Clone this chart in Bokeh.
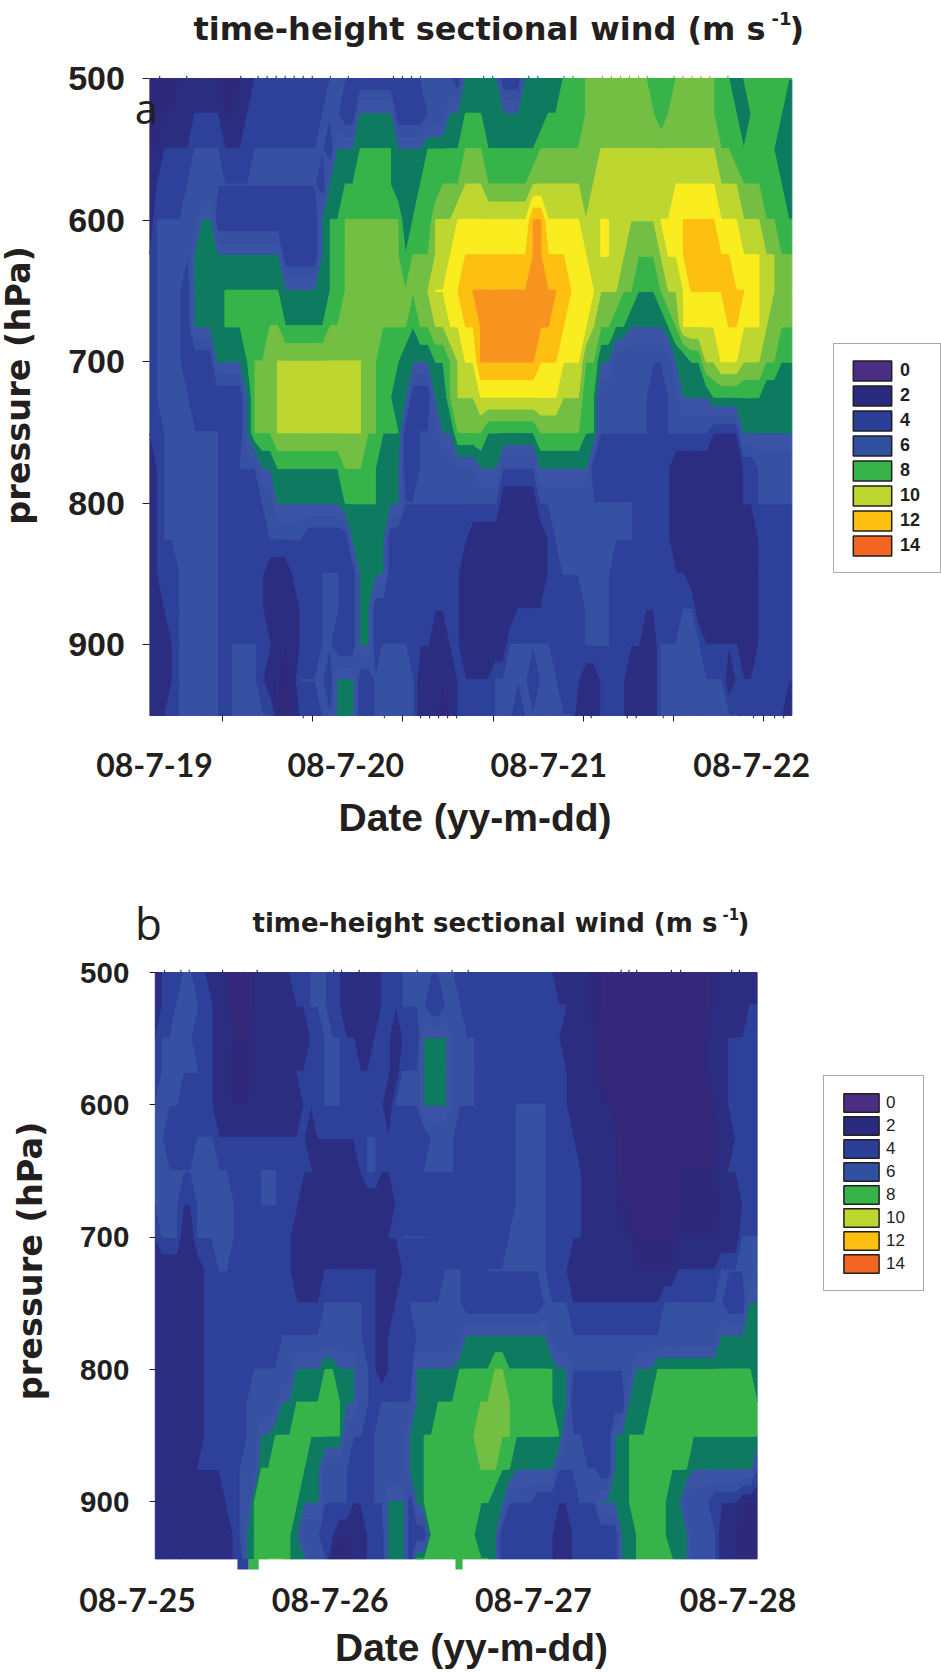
from bokeh.plotting import figure
from bokeh.layouts import column
from bokeh.models import Range1d, FixedTicker, Label, Legend, LegendItem, LinearAxis
from bokeh.embed import file_html
from bokeh.resources import INLINE
import numpy as np

# Wind bands, one colour per m/s
band_colors = ["#4b2e83", "#35287b", "#2f297c", "#2a2d80", "#2d409a", "#3650a2", "#3a53a4",
               "#0e7a60", "#36b44a", "#72bf44", "#bed730", "#f9ed20", "#fdbf10", "#f8931f", "#f26522"]
legend_values = ["0", "2", "4", "6", "8", "10", "12", "14"]
legend_colors = ["#4b2e83", "#2a2a7e", "#2c3f98", "#3050a0", "#36b44a", "#bed730", "#fdbf10", "#f26522"]
pressure_ticks = [500, 600, 700, 800, 900]
day_ticks_a = [12, 24, 36, 48, 60, 72, 84]

dates_a = ["08-7-19", "08-7-20", "08-7-21", "08-7-22"]
date_hours_a = [2.95, 28.4, 55.4, 82.4]
dates_b = ["08-7-25", "08-7-26", "08-7-27", "08-7-28"]
date_hours_b = [-2.5, 24.7, 53.4, 82.3]

# Each row: (wind value, hour at which that value ends) along the time axis
a_500 = [(2,4),(3,9),(2,12),(3,14),(4,24),(5,26),(4,36),(5,40),(4,42),(7,46),(4,50),(7,55),(8,58),(9,66),(8,70),(9,75),(8,77),(7,79),(8,86)]
a_525 = [(2,2),(3,6),(4,9),(3,13),(4,23),(5,25),(4,28),(7,32),(4,37),(5,40),(7,42),(8,44),(7,53),(8,58),(9,67),(8,69),(9,75),(8,78),(7,80),(8,84),(7,86)]
a_550 = [(3,2),(4,6),(5,9),(4,14),(5,23),(4,25),(7,28),(8,32),(7,37),(8,42),(9,44),(8,52),(9,60),(10,75),(9,77),(8,83),(7,86)]
a_575 = [(3,1),(4,5),(5,22),(4,24),(7,26),(8,32),(7,36),(8,39),(9,42),(10,44),(9,51),(10,57),(9,59),(10,70),(11,75),(10,78),(9,81),(8,84),(7,86)]
a_600 = [(3,1),(5,7),(7,8),(4,23),(7,24),(8,26),(9,33),(7,35),(8,38),(10,41),(11,51),(13,52),(11,57),(10,60),(11,61),(10,68),(11,71),(12,75),(11,78),(10,81),(9,83),(8,86)]
a_625 = [(4,1),(5,5),(4,6),(7,17),(4,23),(7,24),(8,26),(9,33),(8,35),(9,38),(10,40),(11,42),(12,51),(13,52),(12,55),(11,58),(10,60),(11,61),(10,63),(9,68),(10,69),(11,71),(12,77),(11,81),(10,83),(9,86)]
a_650 = [(4,1),(5,4),(4,6),(7,10),(8,17),(7,24),(8,26),(9,34),(8,35),(9,37),(10,38),(11,41),(12,43),(13,54),(12,56),(11,59),(10,62),(9,64),(8,68),(9,69),(10,71),(11,72),(12,79),(11,81),(10,83),(9,86)]
a_675 = [(4,1),(5,4),(4,6),(7,10),(8,16),(9,17),(8,24),(9,34),(8,36),(9,38),(10,40),(11,42),(12,44),(13,53),(12,55),(11,58),(10,59),(9,61),(8,63),(7,69),(8,70),(9,71),(11,77),(12,78),(11,81),(10,82),(9,86)]
a_700 = [(4,1),(5,4),(4,9),(7,13),(8,14),(9,17),(10,28),(9,30),(8,33),(7,34),(5,35),(7,38),(8,40),(9,41),(10,42),(11,44),(13,51),(12,54),(11,57),(9,59),(7,61),(5,70),(7,72),(8,74),(10,76),(11,78),(10,81),(9,83),(8,86)]
a_725 = [(4,1),(5,5),(4,13),(7,14),(9,17),(10,28),(9,30),(8,32),(7,34),(4,38),(7,40),(9,41),(10,44),(11,54),(10,57),(8,59),(5,66),(4,69),(5,71),(7,75),(8,81),(7,86)]
a_750 = [(4,2),(5,9),(4,13),(7,14),(9,17),(10,28),(9,30),(8,33),(4,36),(5,39),(7,41),(9,44),(8,52),(9,57),(8,59),(5,66),(4,69),(5,74),(4,79),(7,86)]
a_775 = [(3,1),(4,2),(5,9),(4,12),(5,15),(7,17),(8,26),(9,28),(8,30),(7,33),(4,36),(5,41),(6,44),(7,46),(5,52),(7,58),(4,69),(3,79),(4,81),(5,86)]
a_800 = [(3,1),(4,2),(5,9),(4,15),(5,17),(7,26),(8,30),(7,33),(5,46),(3,52),(5,64),(4,69),(3,79),(4,81),(5,86)]
a_825 = [(3,1),(4,2),(5,9),(4,16),(5,20),(4,27),(7,31),(4,42),(3,53),(4,54),(5,64),(4,69),(3,81),(4,86)]
a_850 = [(3,1),(4,4),(5,9),(4,15),(3,19),(4,23),(5,25),(4,28),(7,31),(4,41),(3,53),(4,55),(5,61),(4,71),(3,81),(4,86)]
a_875 = [(3,2),(4,4),(5,9),(4,15),(3,20),(4,23),(5,25),(4,28),(7,29),(4,41),(3,49),(4,58),(5,61),(4,71),(5,72),(3,81),(4,86)]
a_900 = [(3,3),(4,4),(5,9),(4,11),(5,14),(4,16),(3,20),(4,23),(5,24),(4,28),(7,29),(4,31),(5,34),(4,37),(3,40),(4,41),(3,48),(5,53),(4,58),(5,61),(4,65),(3,68),(5,73),(4,78),(3,81),(4,86)]
a_925 = [(3,3),(4,4),(5,9),(4,11),(5,14),(4,15),(3,17),(2,19),(3,20),(5,23),(4,25),(7,27),(4,30),(5,35),(3,41),(4,44),(3,45),(4,46),(5,50),(4,52),(5,54),(4,57),(3,60),(4,63),(3,68),(5,76),(3,78),(4,86)]
a_950 = [(3,2),(4,4),(5,9),(4,11),(5,16),(3,17),(1,19),(3,20),(4,23),(5,25),(7,27),(4,30),(5,35),(3,38),(2,40),(3,41),(4,46),(5,48),(4,50),(5,56),(3,60),(4,63),(3,68),(5,78),(4,84),(3,86)]

b_500 = [(3,1),(4,4),(5,5),(4,7),(3,10),(1,14),(3,19),(4,22),(5,24),(4,26),(3,32),(4,35),(5,42),(4,56),(3,61),(2,63),(1,79),(3,85)]
b_525 = [(3,1),(4,3),(5,6),(4,8),(3,10),(1,14),(3,20),(4,22),(5,24),(4,26),(3,32),(4,35),(5,38),(4,41),(5,43),(4,58),(3,61),(2,63),(1,79),(3,84),(4,85)]
b_550 = [(4,1),(5,5),(4,8),(3,11),(2,14),(3,22),(4,24),(5,26),(4,28),(3,31),(4,33),(3,35),(4,38),(7,41),(5,45),(4,57),(3,62),(1,78),(3,81),(4,85)]
b_575 = [(4,1),(5,6),(4,8),(3,10),(2,14),(3,20),(4,24),(5,26),(4,30),(3,31),(4,33),(3,35),(5,38),(7,41),(5,45),(4,58),(3,62),(1,78),(3,81),(4,85)]
b_600 = [(5,3),(4,8),(3,21),(4,24),(5,26),(4,32),(3,34),(5,38),(7,41),(5,45),(4,51),(5,55),(4,58),(3,64),(1,79),(3,81),(4,85)]
b_625 = [(5,1),(4,6),(5,8),(4,21),(3,23),(4,30),(5,31),(4,33),(3,34),(4,39),(5,42),(4,51),(5,55),(4,59),(3,65),(1,80),(3,82),(4,85)]
b_650 = [(5,10),(4,15),(5,17),(4,22),(3,29),(4,30),(5,31),(4,33),(3,34),(4,38),(5,42),(4,51),(5,55),(4,60),(3,65),(1,74),(2,79),(3,81),(4,85)]
b_675 = [(5,3),(4,6),(5,11),(4,15),(5,17),(4,20),(3,34),(4,51),(5,55),(4,60),(3,65),(2,67),(1,74),(2,80),(3,83),(4,85)]
b_700 = [(4,1),(5,3),(3,6),(5,11),(4,19),(3,33),(4,35),(5,38),(4,50),(5,55),(4,60),(3,67),(2,74),(3,83),(5,85)]
b_725 = [(3,7),(4,9),(5,10),(4,19),(3,24),(4,31),(3,35),(4,41),(5,43),(4,47),(5,55),(4,58),(3,74),(4,80),(5,85)]
b_750 = [(3,7),(4,24),(5,29),(4,31),(3,34),(4,36),(5,43),(4,55),(5,58),(4,72),(5,80),(4,84),(7,85)]
b_775 = [(3,7),(4,18),(5,29),(4,31),(3,33),(4,37),(5,44),(7,55),(5,80),(7,85)]
b_800 = [(3,7),(4,14),(5,20),(7,24),(8,25),(7,28),(5,30),(4,31),(3,33),(4,37),(7,43),(8,48),(9,49),(8,56),(7,58),(5,68),(7,71),(8,84),(7,85)]
b_825 = [(3,7),(4,13),(5,18),(7,20),(8,26),(7,28),(5,30),(4,32),(5,37),(7,40),(8,46),(9,50),(8,56),(7,58),(4,67),(7,70),(8,85)]
b_850 = [(3,7),(4,13),(5,15),(7,17),(8,26),(5,29),(4,31),(5,36),(7,38),(8,45),(9,50),(8,57),(5,60),(4,65),(7,67),(8,85)]
b_875 = [(3,6),(4,12),(5,15),(8,21),(7,23),(5,27),(4,31),(5,36),(7,38),(8,46),(9,48),(8,50),(7,56),(5,62),(4,65),(7,67),(8,75),(7,84),(5,85)]
b_900 = [(3,10),(4,12),(5,14),(8,20),(7,23),(5,27),(4,31),(5,33),(7,35),(4,37),(7,38),(8,47),(7,49),(5,53),(4,60),(5,62),(4,63),(7,67),(8,72),(7,74),(5,78),(4,82),(3,85)]
b_925 = [(3,11),(4,12),(5,13),(7,14),(8,19),(7,20),(5,23),(4,25),(3,30),(4,33),(7,35),(4,39),(8,45),(7,48),(4,56),(3,59),(4,66),(7,68),(8,72),(7,75),(5,79),(3,82),(2,85)]
b_943 = [(3,11),(4,13),(7,14),(8,16),(9,18),(8,19),(7,21),(5,24),(2,28),(3,30),(4,33),(7,35),(4,37),(8,47),(7,48),(4,56),(3,59),(4,66),(7,68),(8,73),(7,75),(5,79),(3,82),(2,85)]

rows_a = [a_500,a_525,a_550,a_575,a_600,a_625,a_650,a_675,a_700,a_725,a_750,a_775,a_800,a_825,a_850,a_875,a_900,a_925,a_950]
levels_a = [500,525,550,575,600,625,650,675,700,725,750,775,800,825,850,875,900,925,950]
rows_b = [b_500,b_525,b_550,b_575,b_600,b_625,b_650,b_675,b_700,b_725,b_750,b_775,b_800,b_825,b_850,b_875,b_900,b_925,b_943]
levels_b = [500,525,550,575,600,625,650,675,700,725,750,775,800,825,850,875,900,925,943]

# Short excursions under the lower edge of panel b
stub_left = [11.6, 13.2, 42.4]
stub_right = [13.2, 14.6, 43.4]
stub_top = [943, 943, 943]
stub_bottom = [951, 951, 951]
stub_colors = ["#2d409a", "#36b44a", "#36b44a"]

# Tiny spikes (hours from panel start) sticking out of the field edges
spikes_top_a = [1.3,4.9,12.1,14.4,15.6,16.8,18,19.2,20.4,21.6,24,26.4,32.4,33.6,34.8,36,44.4,45.6,50.4,51.6,55.1,56.3,60.2,61.4,62.6,63.8,65,66.2,69.7,70.9,72.1,73.3,74.5,76.9]
spikes_bottom_a = [20.4,31.2,36,37.2,38.4,39.6,40.8,58.7,63.5,64.7,68.3,80.3,83.1,84.3]
spikes_top_b = [1.3,3.6,4.8,9.5,14.4,25.2,26.3,28.8,37,41.9,44.2,65.8,66.9,68,72.9,74.2,81.4,82.5]

contour_levels = [n - 0.02 for n in range(16)]
INK = "#231f20"
SANS = "Liberation Sans"
WIDE = "DejaVu Sans"


def expand(runs, n):
    out = []
    for h in range(n):
        start = 0
        v = 0
        for val, end in runs:
            if start <= h <= end:
                v = max(v, val)
            start = end
        out.append(v)
    return out


def txt(p, x, y, s, size, style="bold", font=SANS, align="center", base="middle"):
    p.add_layout(Label(x=x, y=y, x_units="canvas", y_units="canvas", text=s, text_font=font,
                       text_font_size=f"{size}px", text_font_style=style, text_color=INK,
                       text_align=align, text_baseline=base))


def spikes(p, hours, t0, row, y0, y1):
    vals = expand(row, int(row[-1][1]) + 1)
    xs = [t0 + h for h in hours]
    cols = [band_colors[vals[int(round(h))]] for h in hours]
    p.segment(x0=xs, x1=xs, y0=[y0] * len(xs), y1=[y1] * len(xs), line_color=cols, line_width=1.2)


def build(rows, levels, t0, t1, h, left_px, top_px, px_per_hour, px_per_hpa, tick_size, standoff,
          lab_standoff, label_bounds, ticks_x, date_hours, dates, date_standoff,
          legend_loc, legend_font, legend_style, glyph_w, glyph_h, pad, std, lw, tick_len):
    w = 941
    xr = Range1d(t0 - left_px / px_per_hour, t0 + (w - left_px) / px_per_hour)
    yr = Range1d(500 + (h - top_px) / px_per_hpa, 500 - top_px / px_per_hpa)
    p = figure(width=w, height=h, frame_width=w, frame_height=h, output_backend="svg",
               toolbar_location=None, x_range=xr, y_range=yr,
               min_border_left=0, min_border_top=0, min_border_right=0, min_border_bottom=0,
               x_axis_location=None, y_axis_location=None)
    p.grid.visible = False
    p.outline_line_color = None
    n = int(rows[0][-1][1]) + 1
    z = np.array([expand(r, n) for r in rows], dtype=float)
    t = np.arange(n) + t0
    t[-1] = t1
    cr = p.contour(t, np.array(levels, dtype=float), z, contour_levels, fill_color=band_colors, line_color=None)
    g = cr.fill_renderer.glyph
    g.line_color = g.fill_color
    g.line_width = 1
    g.line_alpha = 1

    ya = LinearAxis(fixed_location=t0, ticker=FixedTicker(ticks=pressure_ticks), bounds=label_bounds)
    ya.axis_line_color = None
    ya.major_tick_in = 0
    ya.major_tick_out = tick_len
    ya.major_tick_line_color = INK
    ya.minor_tick_line_color = None
    ya.major_label_standoff = standoff
    ya.major_label_text_font = SANS
    ya.major_label_text_font_style = "bold"
    ya.major_label_text_font_size = tick_size
    ya.major_label_text_color = INK
    ya.axis_label = "pressure (hPa)"
    ya.axis_label_text_font = WIDE
    ya.axis_label_text_font_style = "bold"
    ya.axis_label_text_font_size = "33.5px"
    ya.axis_label_text_color = INK
    ya.axis_label_standoff = lab_standoff
    p.add_layout(ya, "left")

    if ticks_x:
        xa = LinearAxis(fixed_location=levels[-1], ticker=FixedTicker(ticks=ticks_x))
        xa.axis_line_color = None
        xa.major_tick_in = 0
        xa.major_tick_out = 6
        xa.major_tick_line_color = INK
        xa.minor_tick_line_color = None
        xa.major_label_overrides = {v: "" for v in ticks_x}
        p.add_layout(xa, "below")

    da = LinearAxis(fixed_location=levels[-1], ticker=FixedTicker(ticks=date_hours))
    da.axis_line_color = None
    da.major_tick_line_color = None
    da.minor_tick_line_color = None
    da.major_tick_out = 0
    da.major_tick_in = 0
    da.major_label_standoff = date_standoff
    da.major_label_overrides = {v: s for v, s in zip(date_hours, dates)}
    da.major_label_text_font = "Lato"
    da.major_label_text_font_style = "bold"
    da.major_label_text_font_size = "32px"
    da.major_label_text_color = INK
    p.add_layout(da, "below")

    items = []
    far = t1 + 1000
    for lab, col in zip(legend_values, legend_colors):
        r = p.quad(left=[far], right=[far + 1], top=[500], bottom=[501], fill_color=col, line_color=INK, line_width=1.5)
        items.append(LegendItem(label=lab, renderers=[r]))
    lg = Legend(items=items, location=legend_loc, margin=0, padding=pad, spacing=0,
                glyph_width=glyph_w, glyph_height=glyph_h, label_standoff=std, label_width=lw,
                label_text_font=SANS, label_text_font_size=legend_font, label_text_font_style=legend_style,
                label_text_color=INK, border_line_color="#555555", border_line_width=1.5,
                background_fill_color="white", background_fill_alpha=1)
    p.add_layout(lg, "center")
    return p


pa = build(rows_a, levels_a, 2.34, 87.74, 860, 149.4, 78, 7.517, 1.4156, "34px", 18, 27, (484, 950),
           day_ticks_a, date_hours_a, dates_a, 37,
           (833, 287), "18px", "bold", 48, 25, 14, 4, 26, 7)
spikes(pa, spikes_top_a, 2.34, a_500, 500, 498)
spikes(pa, spikes_bottom_a, 2.34, a_950, 950, 952)

pb = build(rows_b, levels_b, 0, 85, 813, 154.8, 112, 7.08, 1.3237, "29.5px", 20, 27, (491, 945),
           None, date_hours_b, dates_b, 29,
           (823, 382), "17px", "normal", 44, 23, 15, 3, 22, 6)
pb.quad(left=stub_left, right=stub_right, top=stub_top, bottom=stub_bottom,
        fill_color=stub_colors, line_color=None)
spikes(pb, spikes_top_b, 0, b_500, 500, 498)

# Panel a texts
txt(pa, 193, 28, "time-height sectional wind (m s", 32, font=WIDE, align="left", base="alphabetic")
txt(pa, 771, 18, "-1", 18, font=WIDE, align="left", base="alphabetic")
txt(pa, 789, 28, ")", 32, font=WIDE, align="left", base="alphabetic")
txt(pa, 146, 107, "a", 42, style="normal", font="Open Sans")
txt(pa, 474.5, 817, "Date (yy-m-dd)", 39)

# Panel b texts (canvas starts 860 px down the page)
txt(pb, 252, 62, "time-height sectional wind (m s", 26, font=WIDE, align="left", base="alphabetic")
txt(pb, 722, 53, "-1", 15, font=WIDE, align="left", base="alphabetic")
txt(pb, 737, 62, ")", 26, font=WIDE, align="left", base="alphabetic")
txt(pb, 148, 62, "b", 44, style="normal", font="Open Sans")
txt(pb, 471, 787, "Date (yy-m-dd)", 39)

page = column(pa, pb, spacing=0)
open("out.html", "w").write(file_html(page, INLINE))
